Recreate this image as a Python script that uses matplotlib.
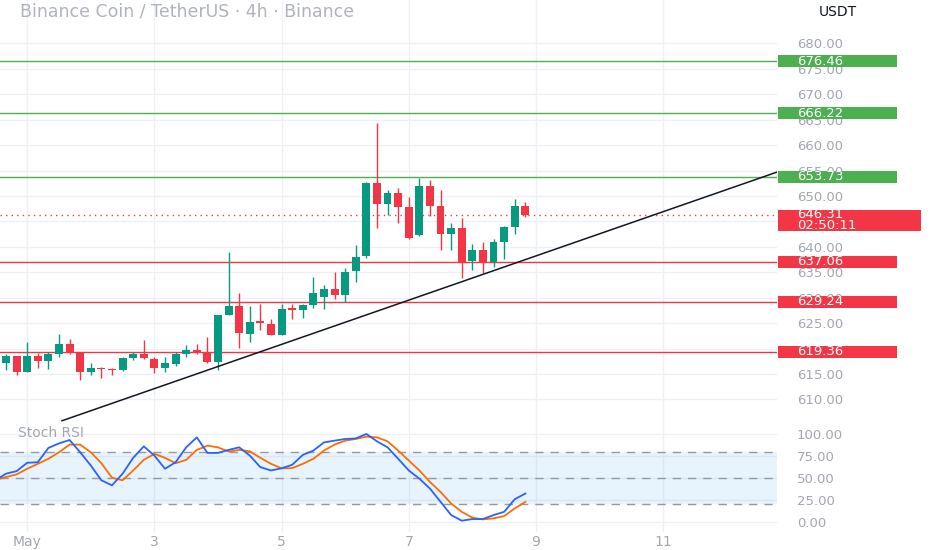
import matplotlib
matplotlib.use("Agg")
import matplotlib.pyplot as plt
from matplotlib.patches import Rectangle
from matplotlib.transforms import blended_transform_factory
import numpy as np
import pandas as pd

# Datos (velas de 4h)
titulo = "Binance Coin / TetherUS · 4h · Binance"
moneda = "USDT"
inicio_velas = "2025-04-30 16:00"
aperturas = [617.2, 618.5, 615.4, 618.6, 617.5, 618.9, 620.9, 619.3, 615.4, 616.2,
             615.9, 615.7, 618.1, 618.9, 617.9, 616.2, 617.0, 619.0, 619.8, 619.3,
             617.3, 626.6, 628.3, 622.9, 625.5, 624.9, 622.7, 627.9, 627.6, 628.5,
             630.1, 631.7, 630.6, 635.2, 638.1, 652.6, 648.5, 650.5, 647.8, 642.3,
             651.9, 648.0, 642.5, 643.7, 637.3, 639.4, 637.0, 640.9, 643.9, 648.0]
maximos = [618.9, 618.6, 621.3, 619.1, 619.4, 622.8, 621.9, 619.4, 617.1, 616.3,
           616.2, 618.3, 619.3, 621.7, 618.4, 618.3, 619.4, 620.6, 620.8, 622.3,
           626.5, 639.0, 631.0, 628.3, 628.8, 625.8, 628.8, 628.8, 628.8, 634.0,
           632.4, 635.0, 635.9, 640.4, 652.8, 664.4, 651.1, 651.5, 649.8, 653.6,
           653.2, 651.1, 644.7, 645.7, 640.6, 640.9, 641.5, 644.0, 649.4, 648.8]
minimos = [615.8, 614.8, 615.4, 616.2, 616.0, 618.4, 618.9, 613.9, 614.8, 614.2,
           614.8, 615.5, 617.8, 617.9, 615.2, 615.4, 616.6, 618.3, 618.9, 617.1,
           615.8, 626.6, 620.1, 621.3, 623.7, 622.7, 622.7, 625.8, 626.0, 628.0,
           627.8, 629.8, 629.1, 633.0, 637.9, 643.7, 646.3, 644.6, 641.6, 642.1,
           646.1, 639.4, 639.4, 633.9, 635.5, 634.9, 636.0, 637.6, 642.5, 645.9]
cierres = [618.6, 615.3, 618.5, 617.5, 619.0, 620.9, 619.3, 615.4, 616.2, 616.0,
           615.7, 618.1, 618.9, 618.1, 616.2, 617.1, 619.0, 619.8, 619.3, 617.3,
           626.5, 628.3, 623.1, 625.3, 625.0, 622.7, 627.8, 627.5, 628.5, 630.9,
           631.7, 630.5, 635.0, 638.0, 652.6, 648.5, 650.5, 647.8, 641.8, 651.9,
           648.0, 642.5, 643.7, 637.0, 639.4, 637.0, 640.9, 643.9, 648.0, 646.31]

# Stoch RSI (empieza una vela antes)
inicio_stoch = "2025-04-30 12:00"
stoch_k = [47.4, 54.9, 57.8, 67.3, 67.9, 84.1, 89.3, 93.1, 79.2, 64.2, 47.4,
           41.7, 54.9, 72.9, 85.9, 75.5, 60.5, 67.9, 84.8, 96.1, 78.5,
           78.5, 81.9, 84.8, 75.5, 62.3, 58.6, 61.0, 65.0, 76.2, 81.1,
           90.4, 92.4, 94.3, 94.9, 100.0, 91.6, 84.8, 71.8, 58.6, 49.3,
           38.0, 23.0, 8.0, 1.6, 3.5, 3.5, 8.0, 11.7, 26.0, 32.4]
stoch_d = [47.8, 51.1, 54.1, 60.5, 66.1, 71.8, 79.2, 87.9, 87.9, 79.2, 66.8,
           50.4, 47.4, 58.6, 70.6, 77.4, 72.9, 66.8, 70.6, 81.9, 86.7,
           84.8, 80.0, 81.9, 80.3, 72.9, 66.1, 61.0, 61.2, 66.1, 71.8,
           81.1, 87.9, 92.4, 94.3, 96.9, 96.1, 91.6, 81.1, 69.9, 58.6,
           45.5, 34.2, 21.1, 11.7, 5.0, 3.1, 4.3, 6.9, 15.5, 23.0]
bandas = [80, 50, 20]

niveles_verdes = [676.46, 666.22, 653.73]
niveles_rojos = [637.06, 629.24, 619.36]
precio_actual = 646.31
cuenta_atras = "02:50:11"

# linea de tendencia dibujada (fecha, precio)
tendencia_fechas = ["2025-05-01 13:07", "2025-05-12 19:00"]
tendencia_precios = [605.8, 654.7]

fechas_ticks = ["2025-05-01", "2025-05-03", "2025-05-05", "2025-05-07", "2025-05-09", "2025-05-11"]
etiquetas_ticks = ["May", "3", "5", "7", "9", "11"]
precios_ticks = np.arange(610, 681, 5)
precios_ocultos = [620, 645]  # tapados por las etiquetas
stoch_ticks = [0, 25, 50, 75, 100]

VERDE = "#089981"
ROJO = "#f23645"
VERDE_NIVEL = "#4caf50"
GRIS = "#a3a6af"
REJILLA = "#eef0f5"

origen = pd.Timestamp("2025-05-01 00:00")
paso = pd.Timedelta(hours=4)


def a_posicion(fechas):
    return np.array([(pd.Timestamp(f) - origen) / paso for f in fechas])


x_velas = a_posicion(pd.date_range(inicio_velas, periods=len(cierres), freq="4h"))
x_stoch = a_posicion(pd.date_range(inicio_stoch, periods=len(stoch_k), freq="4h"))
x_ticks = a_posicion(fechas_ticks)

fig = plt.figure(figsize=(9.32, 5.5), dpi=100)
fig.patch.set_facecolor("white")
ax = fig.add_axes([0, 127 / 550, 777 / 932, 423 / 550])
ax2 = fig.add_axes([0, 18 / 550, 777 / 932, 109 / 550], sharex=ax)

for a in (ax, ax2):
    for s in a.spines.values():
        s.set_visible(False)
    a.yaxis.tick_right()
    a.tick_params(axis="y", length=0, pad=14.4, labelsize=9.5, labelcolor=GRIS)
    a.tick_params(axis="x", length=0)
    a.set_axisbelow(True)
    a.grid(True, color=REJILLA, linewidth=1)

ax.set_xlim(-2.566, 70.74)
ax.set_ylim(605.36, 688.53)
ax2.set_ylim(-11.2, 112.4)
ax.set_yticks(precios_ticks)
ax.set_yticklabels(["" if p in precios_ocultos else f"{p:.2f}" for p in precios_ticks])
ax2.set_yticks(stoch_ticks)
ax2.set_yticklabels([f"{v:.2f}" for v in stoch_ticks])
ax2.set_xticks(x_ticks)
ax2.set_xticklabels(etiquetas_ticks)
ax2.tick_params(axis="x", labelsize=10, labelcolor=GRIS, pad=2)
plt.setp(ax.get_xticklabels(), visible=False)

# velas
aperturas = np.array(aperturas)
cierres = np.array(cierres)
colores = [VERDE if c >= o else ROJO for o, c in zip(aperturas, cierres)]
ax.vlines(x_velas, minimos, maximos, colors=colores, linewidth=1, zorder=3)
alto = np.maximum(np.abs(cierres - aperturas), 0.2)
ax.bar(x_velas, alto, bottom=np.minimum(aperturas, cierres), width=0.74,
       color=colores, linewidth=0, zorder=4)

# niveles horizontales
for p in niveles_verdes:
    ax.axhline(p, color=VERDE_NIVEL, linewidth=1, zorder=2)
for p in niveles_rojos:
    ax.axhline(p, color=ROJO, linewidth=1, zorder=2)
ax.axhline(precio_actual, color=ROJO, linewidth=1, linestyle=(0, (1, 3)), zorder=2)

# tendencia
ax.plot(a_posicion(tendencia_fechas), tendencia_precios, color="#131722",
        linewidth=1.1, zorder=5)

# etiquetas en el eje de precios
trans = blended_transform_factory(ax.transAxes, ax.transData)
unidad_px = (688.53 - 605.36) / 423
x0 = 778 / 777
for p, col in [(p, VERDE_NIVEL) for p in niveles_verdes] + [(p, ROJO) for p in niveles_rojos]:
    ax.add_patch(Rectangle((x0, p - 6 * unidad_px), 119 / 777, 12 * unidad_px,
                           transform=trans, facecolor=col, edgecolor="none",
                           clip_on=False, zorder=6))
    ax.text(797 / 777, p, f"{p:.2f}", transform=trans, color="white", fontsize=9.5,
            va="center", ha="left", clip_on=False, zorder=7)

ax.add_patch(Rectangle((x0, precio_actual - 16 * unidad_px), 143 / 777, 21 * unidad_px,
                       transform=trans, facecolor=ROJO, edgecolor="none",
                       clip_on=False, zorder=6))
ax.text(797 / 777, precio_actual, f"{precio_actual:.2f}", transform=trans, color="white",
        fontsize=9.5, va="center", ha="left", clip_on=False, zorder=7)
ax.text(797 / 777, precio_actual - 11 * unidad_px, cuenta_atras, transform=trans,
        color="white", fontsize=9.5, va="center", ha="left", clip_on=False, zorder=7)

# Stoch RSI
ax2.axhspan(bandas[2], bandas[0], color="#2196f3", alpha=0.1, linewidth=0, zorder=1)
for b in bandas:
    ax2.axhline(b, color="#9598a1", linewidth=1, linestyle=(0, (6, 5)), zorder=2)
ax2.plot(x_stoch, stoch_k, color="#2962ff", linewidth=1.3, zorder=4)
ax2.plot(x_stoch, stoch_d, color="#ff6d00", linewidth=1.3, zorder=3)
ax2.text(18 / 777, 1 - 10 / 109, "Stoch RSI", transform=ax2.transAxes, color=GRIS,
         fontsize=10, va="center", ha="left")

fig.text(20 / 932, 1 - 11.5 / 550, titulo, color="#b0b3ba", fontsize=12.5,
         va="center", ha="left")
fig.text(838 / 932, 1 - 12 / 550, moneda, color="#131722", fontsize=10,
         va="center", ha="center")

fig.savefig("out.png", dpi=100)
